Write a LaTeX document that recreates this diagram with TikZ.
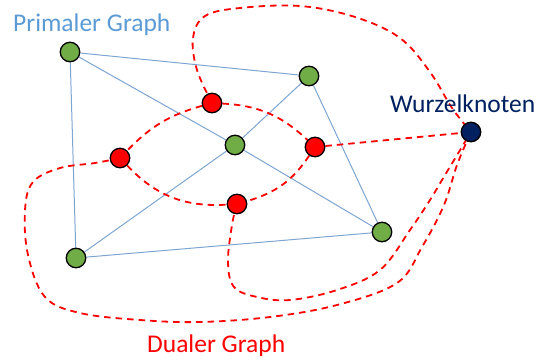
\documentclass[tikz,border=0pt]{standalone}
\usepackage{fontspec}
\setmainfont{Carlito}
\usetikzlibrary{backgrounds}
\definecolor{primal}{RGB}{125,165,210}
\definecolor{primtext}{RGB}{91,155,213}
\definecolor{leaf}{RGB}{112,173,71}
\definecolor{navy}{RGB}{0,32,96}
\begin{document}
\begin{tikzpicture}[x=1pt,y=-1pt,
  vert/.style={circle,draw=black,line width=1.3pt,minimum size=19.5pt,inner sep=0pt},
  pv/.style={vert,fill=leaf},
  dv/.style={vert,fill=red},
  rootv/.style={vert,fill=navy},
  pedge/.style={draw=primal,line width=1pt},
  dedge/.style={draw=red,line width=1.8pt,dash pattern=on 6.5pt off 5pt},
  lbl/.style={font=\fontsize{25.5}{30}\selectfont,inner sep=0pt,anchor=base west}]
\useasboundingbox (0,0) rectangle (539,361);
% primal vertices
\node[pv] (g1) at (70,52) {};
\node[pv] (g2) at (309,76) {};
\node[pv] (g3) at (235,145) {};
\node[pv] (g4) at (382,232) {};
\node[pv] (g5) at (76,258) {};
% dual vertices
\node[dv] (r1) at (212,103) {};
\node[dv] (r2) at (120,158) {};
\node[dv] (r3) at (315,147) {};
\node[dv] (r4) at (237,204) {};
\node[rootv] (root) at (471,132) {};
% labels
\node[lbl,text=primtext] (lp) at (13,32) {Primaler Graph};
\node[lbl,text=navy] (lw) at (390,113) {Wurzelknoten};
\node[lbl,text=red] (ld) at (147,352) {Dualer Graph};
\begin{scope}[on background layer]
% primal edges
\draw[pedge] (g1) -- (g2);
\draw[pedge] (g1) -- (g3);
\draw[pedge] (g1) -- (g5);
\draw[pedge] (g2) -- (g3);
\draw[pedge] (g2) -- (g4);
\draw[pedge] (g3) -- (g4);
\draw[pedge] (g3) -- (g5);
\draw[pedge] (g5) -- (g4);
% dual edges
\draw[dedge] (r1) to[bend right=15] (r2);
\draw[dedge] (r1) to[bend left=20] (r3);
\draw[dedge] (r2) to[bend right=25] (r4);
\draw[dedge] (r3) to[bend left=20] (r4);
\draw[dedge] (r3) -- (root);
\draw[dedge] plot[smooth,tension=0.6] coordinates {(r1) (197,70) (193,38) (205,16) (240,8) (300,6) (355,17) (400,38) (430,72) (452,108) (root)};
\draw[dedge] plot[smooth,tension=0.6] coordinates {(r2) (95,163) (60,168) (33,182) (25,210) (28,255) (45,297) (80,313) (140,320) (200,322) (270,317) (337,305) (397,283) (422,247) (444,205) (457,165) (root)};
\draw[dedge] plot[smooth,tension=0.6] coordinates {(r4) (232,225) (228,262) (234,287) (257,297) (290,300) (337,290) (380,270) (410,230) (430,200) (445,175) (root)};
\end{scope}
\end{tikzpicture}
\end{document}
